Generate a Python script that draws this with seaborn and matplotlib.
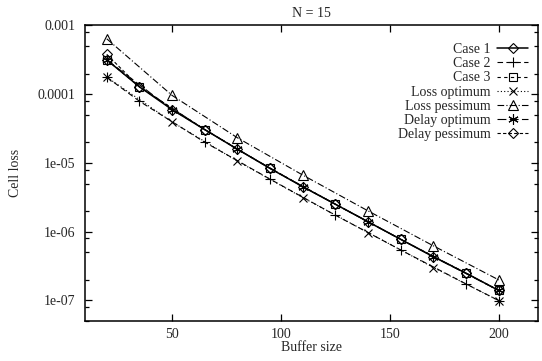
import matplotlib
matplotlib.use("Agg")
import matplotlib.pyplot as plt
import seaborn as sns
import pandas as pd
from matplotlib.ticker import FixedLocator, FixedFormatter, NullFormatter

# ---- data ----
x_case1 = [20, 35, 50, 65, 80, 95, 110, 125, 140, 155, 170, 185, 200]
case1 = [3.16e-4, 1.28e-4, 5.96e-5, 3.05e-5, 1.58e-5, 8.3e-6, 4.5e-6,
         2.5e-6, 1.39e-6, 7.7e-7, 4.3e-7, 2.48e-7, 1.39e-7]

x_case2 = [20, 35, 65, 95, 125, 155, 185, 200]
case2 = [1.77e-4, 7.9e-5, 2.0e-5, 5.8e-6, 1.73e-6, 5.4e-7, 1.73e-7, 9.9e-8]

x_case3 = [20, 35, 65, 95, 125, 155, 185, 200]
case3 = [3.16e-4, 1.28e-4, 3.05e-5, 8.3e-6, 2.5e-6, 7.7e-7, 2.48e-7, 1.39e-7]

x_loss_opt = [20, 50, 80, 110, 140, 170, 200]
loss_opt = [1.77e-4, 3.95e-5, 1.06e-5, 3.13e-6, 9.7e-7, 3.0e-7, 9.9e-8]

x_loss_pess = [20, 50, 80, 110, 140, 170, 200]
loss_pess = [6.4e-4, 9.6e-5, 2.32e-5, 6.65e-6, 2.0e-6, 6.2e-7, 1.98e-7]

x_delay_opt = [20, 50, 80, 110, 140, 170, 200]
delay_opt = [3.16e-4, 5.96e-5, 1.58e-5, 4.5e-6, 1.39e-6, 4.3e-7, 1.39e-7]

x_delay_pess = [20, 35, 65, 95, 125, 155, 185, 200]
delay_pess = [3.8e-4, 1.28e-4, 3.05e-5, 8.3e-6, 2.5e-6, 7.7e-7, 2.48e-7, 1.39e-7]

labels = ["Case 1", "Case 2", "Case 3", "Loss optimum", "Loss pessimum",
          "Delay optimum", "Delay pessimum"]
y_major = [1e-3, 1e-4, 1e-5, 1e-6, 1e-7]
y_major_labels = ["0.001", "0.0001", "1e-05", "1e-06", "1e-07"]
x_major = [50, 100, 150, 200]

# ---- style ----
sns.set_style("ticks")
plt.rcParams["font.family"] = ["Liberation Serif", "DejaVu Serif"]
FS = 10
plt.rcParams["font.size"] = FS

fig = plt.figure(figsize=(5.42, 3.61), dpi=100)
ax = fig.add_axes([0.1568, 0.1108, 0.9926 - 0.1568, 0.9294 - 0.1108])

series = [
    (x_case1, case1, dict(marker="D", ms=4.6, linestyle="-", lw=1.1)),
    (x_case2, case2, dict(marker="+", ms=7.5, dashes=(5, 3), lw=0.8)),
    (x_case3, case3, dict(marker="s", ms=6.0, dashes=(3, 3), lw=0.8)),
    (x_loss_opt, loss_opt, dict(marker="x", ms=6.0, dashes=(1, 2), lw=0.8)),
    (x_loss_pess, loss_pess, dict(marker="^", ms=6.5, dashes=(6, 2, 1, 2), lw=0.8)),
    (x_delay_opt, delay_opt, dict(marker=(6, 2, 0), ms=7.5, dashes=(8, 3), lw=0.8)),
    (x_delay_pess, delay_pess, dict(marker="D", ms=4.6, dashes=(3, 2), lw=0.8)),
]

for (xs, ys, kw), lab in zip(series, labels):
    df = pd.DataFrame({"x": xs, "y": ys})
    sns.lineplot(data=df, x="x", y="y", ax=ax, color="black", label=lab,
                 markerfacecolor="none", markeredgecolor="black",
                 markeredgewidth=0.8, sort=False, estimator=None, **kw)

ax.set_yscale("log")
ax.set_xlim(10, 218)
ax.set_ylim(5e-8, 1e-3)

ax.yaxis.set_major_locator(FixedLocator(y_major))
ax.yaxis.set_major_formatter(FixedFormatter(y_major_labels))
minors = [k * 10.0 ** e for e in range(-8, -3) for k in (2, 5, 8)]
ax.yaxis.set_minor_locator(FixedLocator(minors))
ax.yaxis.set_minor_formatter(NullFormatter())
ax.xaxis.set_major_locator(FixedLocator(x_major))
ax.xaxis.set_minor_locator(FixedLocator([]))

ax.tick_params(which="major", direction="in", length=5, width=0.9,
               top=True, right=True, labelsize=FS, pad=7, color="black")
ax.tick_params(which="minor", direction="in", length=2.8, width=0.9,
               left=True, right=True, color="black")
ax.tick_params(axis="x", which="major", pad=5)
for sp in ax.spines.values():
    sp.set_visible(True)
    sp.set_linewidth(1.1)
    sp.set_color("black")

ax.set_xlabel("Buffer size", fontsize=FS, labelpad=0)
ax.set_ylabel("Cell loss", fontsize=FS, labelpad=11)
ax.set_title("N = 15", fontsize=FS, pad=6)

leg = ax.legend(loc="upper right", bbox_to_anchor=(0.978, 0.94),
                markerfirst=False, frameon=False, fontsize=FS,
                handlelength=2.2, handletextpad=0.5, labelspacing=0.08,
                borderpad=0, borderaxespad=0, numpoints=1)

fig.savefig("out.png", dpi=100)
